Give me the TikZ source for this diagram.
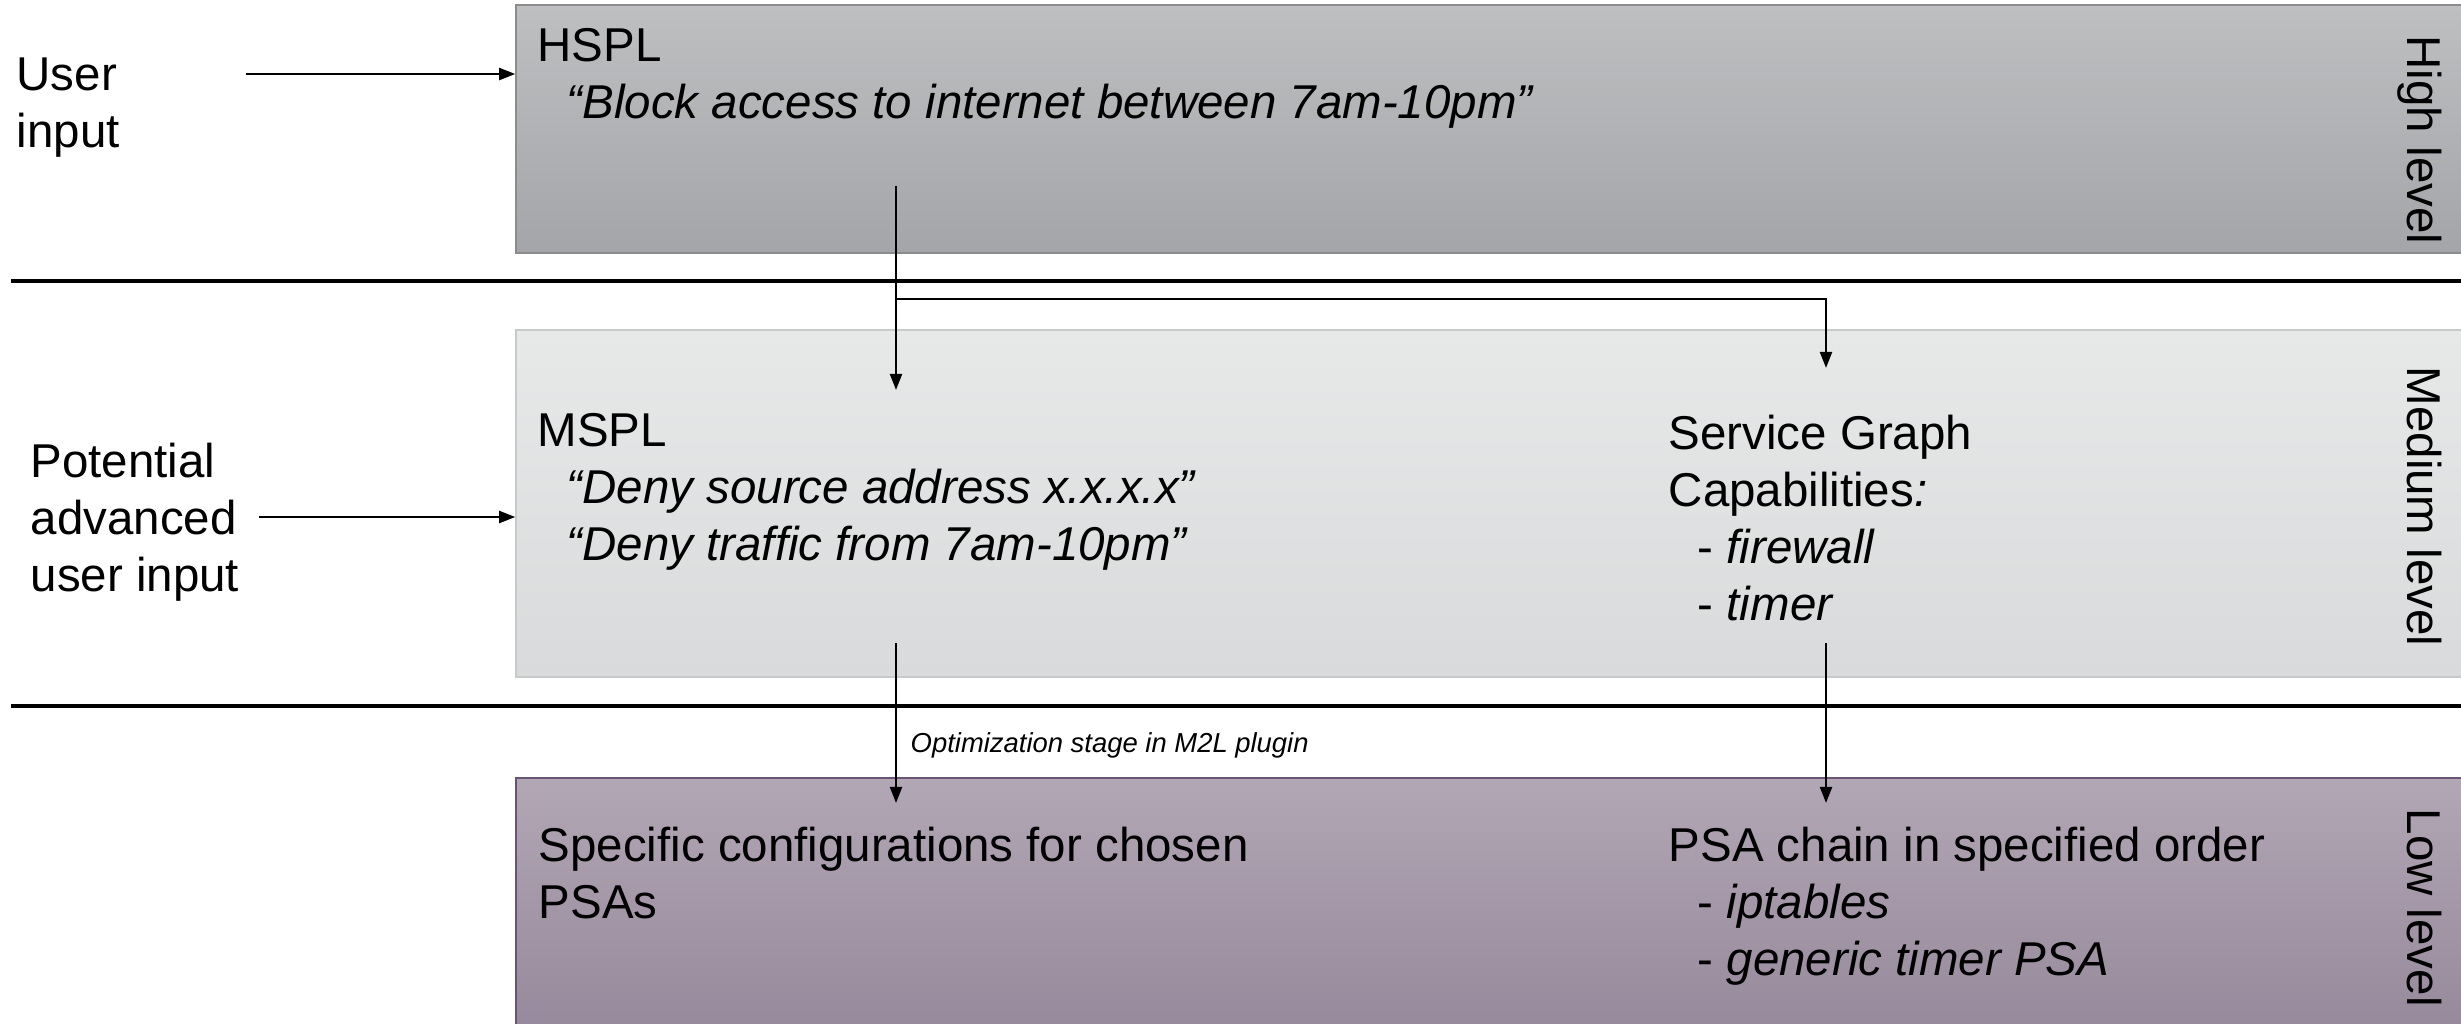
\documentclass[tikz,border=0pt]{standalone}
\usepackage{fontspec}
\setmainfont{Liberation Sans}
\usetikzlibrary{arrows.meta,fit}
\definecolor{hiTop}{RGB}{190,191,193}
\definecolor{hiBot}{RGB}{164,165,168}
\definecolor{hiBorder}{RGB}{140,140,143}
\definecolor{meTop}{RGB}{231,232,232}
\definecolor{meBot}{RGB}{217,218,219}
\definecolor{meBorder}{RGB}{200,202,202}
\definecolor{loTop}{RGB}{178,167,181}
\definecolor{loBot}{RGB}{150,137,155}
\definecolor{loBorder}{RGB}{105,85,115}
\begin{document}
\begin{tikzpicture}[x=0.01cm,y=-0.01cm,
  txt/.style={font=\fontsize{13.5}{16.2}\selectfont, inner sep=0pt, align=left, anchor=base west},
  small/.style={font=\fontsize{7.8}{9}\selectfont\itshape, inner sep=0pt, anchor=base west},
  lvl/.style={font=\fontsize{13.5}{16.2}\selectfont, inner sep=0pt, rotate=-90, anchor=base west},
  box/.style={draw=#1Border, line width=0.4pt, top color=#1Top, bottom color=#1Bot, inner sep=0pt},
  conn/.style={draw=black, line width=0.7pt, -{Triangle[length=4.6pt,width=3.4pt]}},
  sep/.style={draw=black, line width=1.2pt},
  ]
\useasboundingbox (0,0) rectangle (2461,1023);
% level boxes
\node[box=hi, fit={(516,5) (2475,253)}] (hsplbox) {};
\node[box=me, fit={(516,330) (2475,677)}] (msplbox) {};
\node[box=lo, fit={(516,778) (2475,1030)}] (lowbox) {};
% separators
\draw[sep] (11,281) -- (2470,281);
\draw[sep] (11,706) -- (2470,706);
% left inputs (anchored at the baseline of the last line)
\node[txt] (user) at (16,147) {User\\input};
\node[txt] (adv) at (30,591) {Potential\\advanced\\user input};
% box texts
\node[txt] (hspl) at (537,118) {HSPL\\\hspace*{0.29cm}\textit{“Block access to internet between 7am-10pm”}};
\node[txt] (mspl) at (537,560) {MSPL\\\hspace*{0.29cm}\textit{“Deny source address x.x.x.x”}\\\hspace*{0.29cm}\textit{“Deny traffic from 7am-10pm”}};
\node[txt] (sg) at (1668,620) {Service Graph\\Capabilities\textit{:}\\\hspace*{0.29cm}- \textit{firewall}\\\hspace*{0.29cm}- \textit{timer}};
\node[txt] (cfg) at (538,918) {Specific configurations for chosen\\PSAs};
\node[txt] (psa) at (1668,975) {PSA chain in specified order\\\hspace*{0.29cm}- \textit{iptables}\\\hspace*{0.29cm}- \textit{generic timer PSA}};
% level labels
\node[lvl] (hl) at (2407,35) {High level};
\node[lvl] (ml) at (2407,366) {Medium level};
\node[lvl] (ll) at (2407,808) {Low level};
% connector points
\coordinate (uin) at (246,74);
\coordinate (ain) at (259,517);
\coordinate (hsrc) at (896,186);
\coordinate (mtip) at (896,390);
\coordinate (split) at (896,299);
\coordinate (sgtip) at (1826,368);
\coordinate (msrc) at (896,643);
\coordinate (ltip) at (896,803);
\coordinate (ssrc) at (1826,643);
\coordinate (ptip) at (1826,803);
% connectors
\draw[conn] (uin) -- (uin -| hsplbox.west);
\draw[conn] (ain) -- (ain -| msplbox.west);
\draw[conn] (hsrc) -- (mtip);
\draw[conn] (split) -| (sgtip);
\draw[conn] (msrc) -- (ltip);
\draw[conn] (ssrc) -- (ptip);
\node[small] (opt) at (910,752) {Optimization stage in M2L plugin};
\end{tikzpicture}
\end{document}
